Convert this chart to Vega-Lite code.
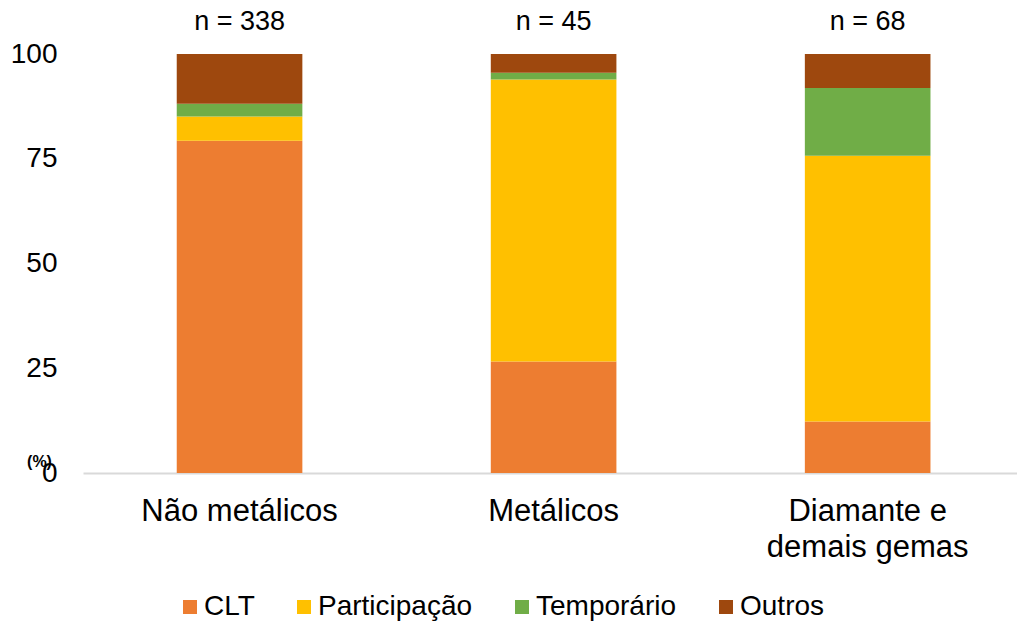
{
  "$schema": "https://vega.github.io/schema/vega-lite/v6.json",
  "autosize": {"type": "none"},
  "width": 934,
  "height": 419,
  "padding": {"left": 83, "top": 54, "right": 0, "bottom": 149},
  "background": "white",
  "config": {
    "view": {"stroke": null},
    "font": "Liberation Sans",
    "text": {"font": "Liberation Sans"}
  },
  "datasets": {
    "bars": [
      {"categoria": "Não metálicos", "tipo": "CLT", "ordem": 1, "valor": 79.3},
      {"categoria": "Não metálicos", "tipo": "Participação", "ordem": 2, "valor": 5.8},
      {"categoria": "Não metálicos", "tipo": "Temporário", "ordem": 3, "valor": 3.0},
      {"categoria": "Não metálicos", "tipo": "Outros", "ordem": 4, "valor": 11.9},
      {"categoria": "Metálicos", "tipo": "CLT", "ordem": 1, "valor": 26.6},
      {"categoria": "Metálicos", "tipo": "Participação", "ordem": 2, "valor": 67.3},
      {"categoria": "Metálicos", "tipo": "Temporário", "ordem": 3, "valor": 1.6},
      {"categoria": "Metálicos", "tipo": "Outros", "ordem": 4, "valor": 4.5},
      {"categoria": "Diamante e demais gemas", "tipo": "CLT", "ordem": 1, "valor": 12.3},
      {"categoria": "Diamante e demais gemas", "tipo": "Participação", "ordem": 2, "valor": 63.4},
      {"categoria": "Diamante e demais gemas", "tipo": "Temporário", "ordem": 3, "valor": 16.2},
      {"categoria": "Diamante e demais gemas", "tipo": "Outros", "ordem": 4, "valor": 8.1}
    ],
    "ns": [
      {"categoria": "Não metálicos", "rotulo": "n = 338"},
      {"categoria": "Metálicos", "rotulo": "n = 45"},
      {"categoria": "Diamante e demais gemas", "rotulo": "n = 68"}
    ]
  },
  "layer": [
    {
      "data": {"name": "bars"},
      "mark": {"type": "bar"},
      "encoding": {
        "x": {
          "field": "categoria",
          "type": "nominal",
          "sort": ["Não metálicos", "Metálicos", "Diamante e demais gemas"],
          "scale": {"paddingInner": 0.6, "paddingOuter": 0.287, "align": 0.52},
          "axis": {
            "title": null,
            "labelAngle": 0,
            "labelFontSize": 31,
            "labelColor": "#000000",
            "labelPadding": 23,
            "labelLineHeight": 36,
            "labelBaseline": "top",
            "labelLimit": 0,
            "ticks": false,
            "domainColor": "#d9d9d9",
            "domainWidth": 2,
            "labelExpr": "datum.label == 'Diamante e demais gemas' ? ['Diamante e', 'demais gemas'] : datum.label"
          }
        },
        "y": {
          "field": "valor",
          "type": "quantitative",
          "stack": "zero",
          "scale": {"domain": [0, 100], "nice": false},
          "axis": {
            "values": [0, 25, 50, 75, 100],
            "grid": false,
            "domain": false,
            "ticks": false,
            "labelFontSize": 28,
            "labelColor": "#000000",
            "labelPadding": 26,
            "title": "(%)",
            "titleAngle": 0,
            "titleFontSize": 16,
            "titleFontWeight": "bold",
            "titleColor": "#000000",
            "titleX": -44,
            "titleY": 407,
            "titleAlign": "center",
            "titleBaseline": "middle"
          }
        },
        "color": {
          "field": "tipo",
          "type": "nominal",
          "sort": ["CLT", "Participação", "Temporário", "Outros"],
          "scale": {
            "domain": ["CLT", "Participação", "Temporário", "Outros"],
            "range": ["#ED7D31", "#FFC000", "#70AD47", "#9E480E"]
          },
          "legend": {
            "title": null,
            "orient": "none",
            "direction": "horizontal",
            "columns": 4,
            "legendX": 93,
            "legendY": 539,
            "symbolType": "square",
            "symbolSize": 196,
            "symbolStrokeWidth": 0,
            "labelFontSize": 28,
            "labelColor": "#000000",
            "labelOffset": 0,
            "columnPadding": 35
          }
        },
        "order": {"field": "ordem", "type": "quantitative"}
      }
    },
    {
      "data": {"name": "ns"},
      "mark": {"type": "text", "fontSize": 27, "baseline": "middle", "dy": -32, "color": "#000000"},
      "encoding": {
        "x": {"field": "categoria", "type": "nominal", "sort": ["Não metálicos", "Metálicos", "Diamante e demais gemas"]},
        "y": {"datum": 100, "type": "quantitative"},
        "text": {"field": "rotulo"}
      }
    }
  ]
}
